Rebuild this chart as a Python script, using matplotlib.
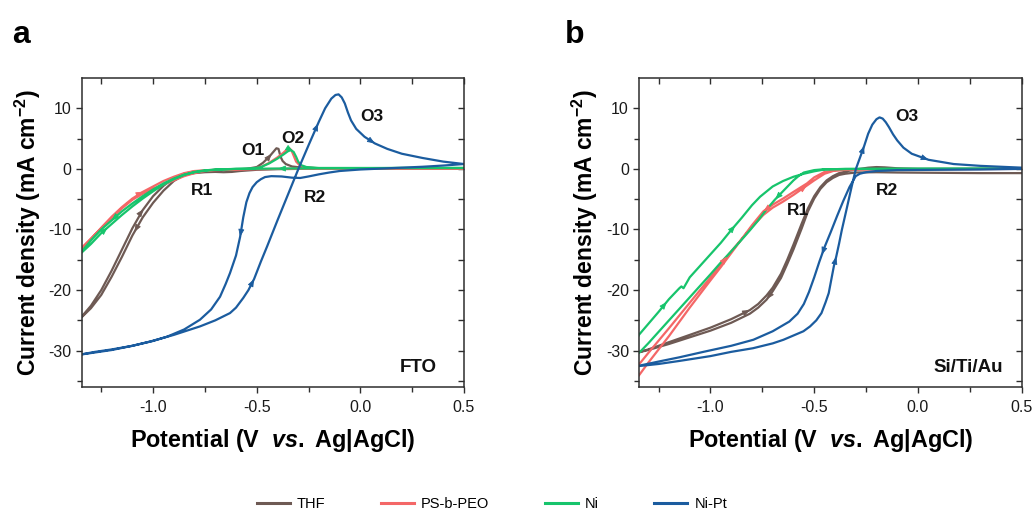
import numpy as np
import matplotlib
matplotlib.use('Agg')
import matplotlib.pyplot as plt
from matplotlib.lines import Line2D

plt.rcParams['font.family'] = ['Liberation Sans', 'DejaVu Sans']
plt.rcParams['axes.unicode_minus'] = False
plt.rcParams['mathtext.fontset'] = 'custom'
plt.rcParams['mathtext.rm'] = 'Liberation Sans:bold'
plt.rcParams['mathtext.it'] = 'Liberation Sans:italic:bold'
plt.rcParams['mathtext.bf'] = 'Liberation Sans:bold'

# ---------------- data ----------------
series_names = ['THF', 'PS-b-PEO', 'Ni', 'Ni-Pt']
series_colors = ['#6e5a54', '#f46767', '#17c46c', '#1b5c9f']

x_major = [-1.0, -0.5, 0.0, 0.5]
x_minor = [-1.25, -0.75, -0.25, 0.25]
y_major = [10, 0, -10, -20, -30]
y_minor = [5, -5, -15, -25, -35]

# panel a (FTO): (potential V, current density mA cm-2), scan from 0.5 V cathodic then back
a_thf = [(0.5, 0.1), (0.3, 0.1), (0.1, 0.1), (-0.1, 0.05), (-0.2, 0.05), (-0.3, 0.0), (-0.4, -0.05),
         (-0.5, -0.15), (-0.58, -0.35), (-0.62, -0.5), (-0.66, -0.55), (-0.7, -0.5), (-0.75, -0.55),
         (-0.8, -0.7), (-0.85, -1.0), (-0.9, -2.0), (-0.95, -3.6), (-1.0, -5.6), (-1.05, -8.0),
         (-1.1, -11.0), (-1.15, -14.5), (-1.2, -17.8), (-1.25, -20.8), (-1.3, -23.0), (-1.36, -25.0),
         (-1.3, -22.6), (-1.25, -20.0), (-1.2, -16.8), (-1.15, -13.3), (-1.1, -9.8), (-1.05, -6.8),
         (-1.0, -4.5), (-0.95, -2.8), (-0.9, -1.5), (-0.85, -0.8), (-0.8, -0.4), (-0.7, -0.2),
         (-0.6, -0.1), (-0.55, 0.0), (-0.5, 0.3), (-0.47, 1.0), (-0.44, 2.0), (-0.42, 2.8),
         (-0.405, 3.4), (-0.395, 3.3), (-0.385, 2.0), (-0.375, 1.3), (-0.36, 0.8), (-0.33, 0.4),
         (-0.28, 0.2), (-0.2, 0.1), (0.0, 0.1), (0.5, 0.1)]
a_pspeo = [(0.5, 0.05), (0.2, 0.05), (0.0, 0.05), (-0.2, 0.05), (-0.4, 0.0), (-0.6, -0.1), (-0.7, -0.2),
           (-0.75, -0.35), (-0.8, -0.7), (-0.85, -1.2), (-0.9, -1.9), (-0.95, -2.6), (-1.0, -3.3),
           (-1.05, -4.1), (-1.1, -5.1), (-1.15, -6.5), (-1.2, -8.1), (-1.25, -9.8), (-1.3, -11.5),
           (-1.36, -13.6),
           (-1.3, -11.6), (-1.25, -9.7), (-1.2, -7.9), (-1.15, -6.3), (-1.1, -4.9), (-1.05, -3.8),
           (-1.0, -2.9), (-0.95, -2.0), (-0.9, -1.3), (-0.85, -0.7), (-0.8, -0.35), (-0.7, -0.15),
           (-0.6, -0.05), (-0.52, 0.0), (-0.48, 0.3), (-0.44, 1.0), (-0.4, 1.9), (-0.37, 2.7),
           (-0.355, 3.2), (-0.343, 3.4), (-0.333, 3.1), (-0.322, 2.2), (-0.31, 1.2), (-0.29, 0.5),
           (-0.26, 0.25), (-0.2, 0.1), (0.0, 0.05), (0.5, 0.05)]
a_ni = [(0.5, 0.15), (0.2, 0.15), (0.0, 0.1), (-0.2, 0.1), (-0.4, 0.05), (-0.6, 0.0), (-0.7, -0.15),
        (-0.75, -0.3), (-0.8, -0.55), (-0.85, -0.95), (-0.9, -1.6), (-0.95, -2.4), (-1.0, -3.4),
        (-1.05, -4.5), (-1.1, -5.7), (-1.15, -7.0), (-1.2, -8.5), (-1.25, -10.0), (-1.3, -11.8),
        (-1.36, -14.3),
        (-1.3, -12.4), (-1.25, -10.6), (-1.2, -9.1), (-1.15, -7.6), (-1.1, -6.2), (-1.05, -4.9),
        (-1.0, -3.7), (-0.95, -2.6), (-0.9, -1.7), (-0.85, -1.0), (-0.8, -0.5), (-0.75, -0.25),
        (-0.7, -0.1), (-0.6, 0.0), (-0.52, 0.05), (-0.48, 0.3), (-0.44, 0.9), (-0.4, 1.7),
        (-0.37, 2.4), (-0.35, 2.9), (-0.336, 3.1), (-0.322, 2.8), (-0.31, 2.0), (-0.3, 1.2),
        (-0.285, 0.6), (-0.26, 0.3), (-0.2, 0.15), (0.0, 0.15), (0.5, 0.15)]
a_nipt = [(0.5, 0.8), (0.4, 0.55), (0.3, 0.35), (0.2, 0.2), (0.1, 0.05), (0.0, -0.1), (-0.1, -0.35),
          (-0.15, -0.6), (-0.2, -0.9), (-0.25, -1.25), (-0.29, -1.5), (-0.33, -1.45), (-0.38, -1.25),
          (-0.43, -1.2), (-0.46, -1.35), (-0.48, -1.7), (-0.5, -2.2), (-0.52, -3.0), (-0.535, -4.0),
          (-0.55, -5.5), (-0.565, -8.0), (-0.58, -11.2), (-0.6, -14.3), (-0.629, -17.2), (-0.65, -19.0),
          (-0.677, -21.1), (-0.72, -23.2), (-0.774, -24.9), (-0.85, -26.5), (-0.933, -27.7),
          (-1.0, -28.4), (-1.1, -29.2), (-1.2, -29.8), (-1.28, -30.2), (-1.36, -30.7),
          (-1.28, -30.3), (-1.2, -29.9), (-1.1, -29.2), (-1.015, -28.5), (-0.9, -27.4), (-0.774, -26.0),
          (-0.7, -25.0), (-0.629, -23.8), (-0.6, -22.9), (-0.565, -21.3), (-0.54, -20.0),
          (-0.513, -18.2), (-0.48, -15.3), (-0.45, -12.8), (-0.4, -8.5), (-0.35, -4.3), (-0.3, -0.1),
          (-0.25, 3.9), (-0.2, 7.8), (-0.17, 10.0), (-0.14, 11.6), (-0.12, 12.2), (-0.105, 12.3),
          (-0.09, 11.8), (-0.075, 10.8), (-0.06, 9.3), (-0.045, 8.0), (-0.02, 6.6), (0.02, 5.3),
          (0.07, 4.2), (0.13, 3.3), (0.2, 2.5), (0.3, 1.8), (0.4, 1.2), (0.5, 0.8)]

# panel b (Si/Ti/Au)
b_thf = [(0.5, -0.7), (0.3, -0.7), (0.1, -0.65), (-0.1, -0.6), (-0.2, -0.55), (-0.3, -0.6),
         (-0.35, -0.8), (-0.38, -1.0), (-0.41, -1.5), (-0.44, -2.2), (-0.47, -3.3), (-0.5, -4.9),
         (-0.53, -7.0), (-0.56, -9.8), (-0.6, -13.3), (-0.63, -15.7), (-0.66, -18.0), (-0.7, -20.2),
         (-0.73, -21.6), (-0.77, -22.9), (-0.81, -23.9), (-0.9, -25.4), (-1.0, -26.7), (-1.1, -27.8),
         (-1.2, -28.9), (-1.3, -29.9), (-1.36, -30.4),
         (-1.3, -29.8), (-1.2, -28.6), (-1.1, -27.4), (-1.0, -26.2), (-0.9, -24.8), (-0.81, -23.3),
         (-0.77, -22.3), (-0.73, -20.9), (-0.7, -19.6), (-0.66, -17.3), (-0.63, -15.0), (-0.6, -12.5),
         (-0.56, -9.0), (-0.53, -6.5), (-0.5, -4.5), (-0.47, -3.0), (-0.44, -1.9), (-0.41, -1.2),
         (-0.38, -0.7), (-0.33, -0.3), (-0.28, 0.0), (-0.24, 0.2), (-0.2, 0.3), (-0.16, 0.25),
         (-0.1, 0.1), (0.0, 0.0), (0.2, 0.0), (0.5, 0.0)]
b_pspeo = [(0.5, 0.0), (0.0, -0.05), (-0.3, -0.1), (-0.4, -0.25), (-0.45, -0.5), (-0.5, -1.4),
           (-0.535, -2.4), (-0.6, -3.8), (-0.65, -4.9), (-0.7, -5.9), (-0.745, -7.0), (-0.8, -9.3),
           (-0.85, -11.6), (-0.9, -13.9), (-0.95, -16.2), (-1.0, -18.4), (-1.1, -22.9), (-1.2, -27.6),
           (-1.3, -32.0), (-1.345, -34.1), (-1.4, -35.5),
           (-1.345, -32.3), (-1.3, -30.4), (-1.2, -26.3), (-1.1, -22.1), (-1.0, -17.9), (-0.9, -13.6),
           (-0.8, -9.6), (-0.745, -7.6), (-0.7, -6.4), (-0.65, -5.4), (-0.6, -4.3), (-0.55, -3.1),
           (-0.5, -1.9), (-0.45, -0.8), (-0.4, -0.25), (-0.3, -0.05), (0.5, 0.0)]
b_ni = [(0.5, 0.0), (0.0, 0.0), (-0.3, -0.02), (-0.45, -0.05), (-0.5, -0.2), (-0.55, -0.6),
        (-0.576, -1.2), (-0.6, -1.9), (-0.648, -3.6), (-0.69, -5.1), (-0.73, -6.7), (-0.77, -8.5),
        (-0.809, -10.1), (-0.85, -11.7), (-0.9, -13.6), (-0.954, -15.6), (-1.0, -17.4), (-1.1, -21.2),
        (-1.2, -25.0), (-1.3, -28.8), (-1.345, -30.4), (-1.4, -31.5),
        (-1.345, -27.4), (-1.3, -25.6), (-1.25, -23.6), (-1.2, -21.5), (-1.15, -19.7), (-1.14, -19.4),
        (-1.13, -19.7), (-1.1, -17.9), (-1.05, -16.0), (-1.0, -14.1), (-0.95, -12.2), (-0.9, -10.1),
        (-0.85, -8.1), (-0.8, -6.0), (-0.761, -4.6), (-0.7, -2.9), (-0.65, -2.0), (-0.6, -1.3),
        (-0.55, -0.8), (-0.5, -0.4), (-0.45, -0.1), (-0.35, 0.0), (0.5, 0.05)]
b_nipt = [(0.5, 0.0), (0.3, -0.1), (0.1, -0.15), (-0.1, -0.2), (-0.2, -0.35), (-0.25, -0.55),
          (-0.28, -0.8), (-0.3, -1.2), (-0.33, -3.0), (-0.36, -5.3), (-0.39, -7.8), (-0.42, -10.4),
          (-0.45, -12.9), (-0.475, -15.3), (-0.5, -17.9), (-0.525, -20.3), (-0.55, -22.3),
          (-0.58, -23.9), (-0.62, -25.2), (-0.7, -26.8), (-0.793, -28.2), (-0.9, -29.2),
          (-1.034, -30.2), (-1.15, -31.1), (-1.25, -31.8), (-1.36, -32.6),
          (-1.25, -32.2), (-1.15, -31.7), (-1.0, -30.9), (-0.9, -30.2), (-0.795, -29.6), (-0.7, -28.8),
          (-0.648, -28.2), (-0.6, -27.5), (-0.552, -26.8), (-0.52, -26.0), (-0.49, -25.0),
          (-0.465, -23.8), (-0.445, -22.0), (-0.43, -20.5), (-0.415, -17.8), (-0.405, -16.0),
          (-0.394, -14.5), (-0.38, -12.3), (-0.367, -10.1), (-0.345, -6.8), (-0.32, -3.0),
          (-0.3, -0.1), (-0.28, 1.8), (-0.259, 3.8), (-0.24, 5.8), (-0.22, 7.3), (-0.2, 8.2),
          (-0.185, 8.5), (-0.17, 8.3), (-0.155, 7.7), (-0.14, 6.9), (-0.12, 5.7), (-0.1, 4.7),
          (-0.07, 3.5), (-0.03, 2.5), (0.051, 1.5), (0.172, 0.8), (0.3, 0.5), (0.5, 0.2)]

panel_a_curves = [a_thf, a_pspeo, a_ni, a_nipt]
panel_b_curves = [b_thf, b_pspeo, b_ni, b_nipt]

# scan-direction arrow positions: (series index, branch 'c'/'a', potential)
panel_a_arrows = [(3, 'c', -0.58), (3, 'a', -0.513), (3, 'a', -0.204), (3, 'a', 0.07),
                  (0, 'c', -1.09), (0, 'a', -1.047), (0, 'a', -0.428),
                  (1, 'a', -1.047), (2, 'c', -1.2), (2, 'a', -1.22), (2, 'a', -0.325),
                  (2, 'c', -0.397)]
panel_b_arrows = [(3, 'a', -0.259), (3, 'a', 0.051), (3, 'c', -0.463), (3, 'a', -0.394),
                  (0, 'c', -0.728), (0, 'a', -0.81),
                  (1, 'c', -0.745), (1, 'a', -0.535), (1, 'a', -0.921),
                  (2, 'a', -0.881), (2, 'c', -0.688), (2, 'a', -1.211)]

panel_a_labels = [('O1', -0.518, 3.1), ('O2', -0.325, 5.0), ('O3', 0.056, 8.6),
                  ('R1', -0.764, -3.5), ('R2', -0.219, -4.8)]
panel_b_labels = [('O3', -0.052, 8.6), ('R2', -0.148, -3.5), ('R1', -0.580, -6.8)]

# ---------------- figure ----------------
W, H = 1034, 511
fig = plt.figure(figsize=(W / 100, H / 100), dpi=100)
axa = fig.add_axes([82 / W, 1 - 387 / H, 382 / W, 309 / H])
axb = fig.add_axes([639.3 / W, 1 - 387 / H, 382.4 / W, 309 / H])

spine_col = '#2e2e2e'


def style(ax):
    ax.set_xlim(-1.343, 0.5)
    ax.set_ylim(-36, 15)
    ax.set_xticks(x_major)
    ax.set_xticks(x_minor, minor=True)
    ax.set_yticks(y_major)
    ax.set_yticks(y_minor, minor=True)
    ax.tick_params(which='both', direction='out', top=False, right=False,
                   color=spine_col, width=1.0, labelsize=11.5, labelcolor='#1a1a1a')
    ax.tick_params(which='major', length=4)
    ax.tick_params(which='minor', length=3.5)
    ax.tick_params(axis='x', pad=5)
    ax.tick_params(axis='y', pad=3.5)
    for s in ax.spines.values():
        s.set_linewidth(1.1)
        s.set_color(spine_col)
    top = ax.secondary_xaxis('top')
    top.set_xticks(x_major)
    top.set_xticks(x_minor, minor=True)
    top.tick_params(which='both', direction='in', length=4, width=1.0, color=spine_col,
                    labeltop=False)
    top.spines['top'].set_visible(False)
    right = ax.secondary_yaxis('right')
    right.set_yticks(y_major)
    right.set_yticks(y_minor, minor=True)
    right.tick_params(which='both', direction='in', length=4, width=1.0, color=spine_col,
                      labelright=False)
    right.spines['right'].set_visible(False)
    ax.set_xlabel(r'Potential (V  $\mathit{vs.}$ Ag|AgCl)', fontsize=16.8, fontweight='bold',
                  labelpad=9)
    ax.set_ylabel(r'Current density (mA cm$^{\mathbf{-2}}$)', fontsize=16.5, fontweight='bold',
                  labelpad=4)


def add_arrow(ax, pts, branch, v_target, color):
    v = np.array([p[0] for p in pts])
    c = np.array([p[1] for p in pts])
    k = int(np.argmin(v))
    rng = range(0, k) if branch == 'c' else range(k, len(v) - 1)
    for j in rng:
        lo, hi = sorted((v[j], v[j + 1]))
        if lo <= v_target <= hi and v[j] != v[j + 1]:
            t = (v_target - v[j]) / (v[j + 1] - v[j])
            x = v[j] + t * (v[j + 1] - v[j])
            y = c[j] + t * (c[j + 1] - c[j])
            p0 = ax.transData.transform((v[j], c[j]))
            p1 = ax.transData.transform((v[j + 1], c[j + 1]))
            d = (p1 - p0) / np.hypot(*(p1 - p0))
            ax.annotate('', xy=(x, y), xycoords='data',
                        xytext=(-d[0] * 4, -d[1] * 4), textcoords='offset pixels',
                        arrowprops=dict(arrowstyle='-|>,head_length=0.45,head_width=0.18',
                                        color=color, lw=0.6, shrinkA=0, shrinkB=0,
                                        mutation_scale=10))
            return


for ax, curves, arrows, labels, sub in [(axa, panel_a_curves, panel_a_arrows, panel_a_labels, 'FTO'),
                                        (axb, panel_b_curves, panel_b_arrows, panel_b_labels, 'Si/Ti/Au')]:
    style(ax)
    for pts, col in zip(curves, series_colors):
        vv = [p[0] for p in pts]
        ii = [p[1] for p in pts]
        ax.plot(vv, ii, color=col, lw=1.6, solid_joinstyle='round')
    for si, br, vt in arrows:
        add_arrow(ax, curves[si], br, vt, series_colors[si])
    for txt, x, y in labels:
        ax.text(x, y, txt, fontsize=12.5, fontweight='bold', ha='center', va='center',
                color='#111111')
    ax.text(0.278 if sub == 'FTO' else 0.242, -32.7, sub, fontsize=13.5, fontweight='bold',
            ha='center', va='center', color='#111111')

fig.text(12 / W, 1 - 43 / H, 'a', fontsize=23, fontweight='bold', va='baseline', ha='left')
fig.text(565 / W, 1 - 43 / H, 'b', fontsize=23, fontweight='bold', va='baseline', ha='left')

handles = [Line2D([], [], color=c, lw=2.2) for c in series_colors]
fig.legend(handles, series_names, loc='center', ncol=4, bbox_to_anchor=(492 / W, 1 - 504 / H),
           frameon=False, fontsize=10.5, handlelength=2.25, handletextpad=0.5,
           columnspacing=3.8, borderpad=0)

fig.savefig('out.png', dpi=100)
